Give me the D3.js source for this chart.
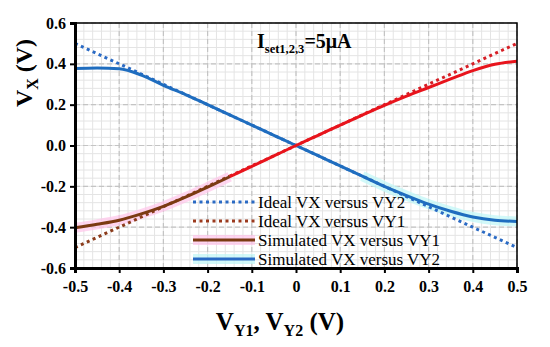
<!DOCTYPE html>
<html>
<head>
<meta charset="utf-8">
<script src="https://cdn.jsdelivr.net/npm/d3@7"></script>
<style>
body { margin: 0; background: #fff; }
svg text { font-family: "Liberation Serif", "Times New Roman", "DejaVu Serif", serif; }
</style>
</head>
<body>
<svg id="chart" width="550" height="347"></svg>
<script>

// sweep voltage VY1 / VY2 (V)
var vY = [-0.5, -0.45, -0.4, -0.35, -0.3, -0.25, -0.2, -0.15, -0.1, -0.05, 0,
	0.05, 0.1, 0.15, 0.2, 0.25, 0.3, 0.35, 0.4, 0.45, 0.5];

// ideal responses
var idealVY2 = [0.5, 0.45, 0.4, 0.35, 0.3, 0.25, 0.2, 0.15, 0.1, 0.05, 0,
	-0.05, -0.1, -0.15, -0.2, -0.25, -0.3, -0.35, -0.4, -0.45, -0.5];
var idealVY1 = [-0.5, -0.45, -0.4, -0.35, -0.3, -0.25, -0.2, -0.15, -0.1, -0.05, 0,
	0.05, 0.1, 0.15, 0.2, 0.25, 0.3, 0.35, 0.4, 0.45, 0.5];

// simulated responses
var simVY1 = [-0.403, -0.386, -0.366, -0.335, -0.298, -0.253, -0.204, -0.153, -0.102, -0.051, 0,
	0.05, 0.1, 0.149, 0.197, 0.242, 0.284, 0.326, 0.367, 0.398, 0.413];
var simVY2 = [0.377, 0.38, 0.376, 0.345, 0.295, 0.249, 0.2, 0.15, 0.1, 0.05, 0,
	-0.05, -0.1, -0.15, -0.2, -0.245, -0.287, -0.322, -0.35, -0.366, -0.372];

// ticks
var xTicks = [-0.5, -0.4, -0.3, -0.2, -0.1, 0, 0.1, 0.2, 0.3, 0.4, 0.5];
var yTicks = [-0.6, -0.4, -0.2, 0.0, 0.2, 0.4, 0.6];

// legend entries
var legendLabels = ["Ideal VX versus VY2", "Ideal VX versus VY1", "Simulated VX versus VY1", "Simulated VX versus VY2"];
var legendColors = ["#2a6ac4", "#9c3a1e", "#7b3a12", "#2a6ac4"];
var legendDotted = [true, true, false, false];
var legendGlow = [null, null, "#ffc4ea", "#bff6f6"];


var svg = d3.select("#chart");
var font = "'Liberation Serif', 'Times New Roman', 'DejaVu Serif', serif";
// plot area (note: "top" is reserved on window, hence the prefix)
var pLeft = 75, pRight = 517, pTop = 23, pBottom = 268;

var x = d3.scaleLinear().domain([-0.5, 0.5]).range([pLeft, pRight]);
var y = d3.scaleLinear().domain([-0.6, 0.6]).range([pBottom, pTop]);

// plain hyphen instead of d3's unicode minus
function fmt(d) { return d3.format(".1f")(d).replace("\u2212", "-"); };

// minor grid
var g = svg.append("g");
g.selectAll(".vminor").data(d3.range(-0.5, 0.5001, 0.02)).enter().append("line")
	.attr("x1", function (d) { return x(d); }).attr("x2", function (d) { return x(d); })
	.attr("y1", pTop).attr("y2", pBottom)
	.attr("stroke", "#e4e4e4").attr("stroke-width", 1);
g.selectAll(".hminor").data(d3.range(-0.6, 0.6001, 0.04)).enter().append("line")
	.attr("y1", function (d) { return y(d); }).attr("y2", function (d) { return y(d); })
	.attr("x1", pLeft).attr("x2", pRight)
	.attr("stroke", "#e4e4e4").attr("stroke-width", 1);

// major grid (dashed)
g.selectAll(".vmajor").data(xTicks).enter().append("line")
	.attr("x1", function (d) { return x(d); }).attr("x2", function (d) { return x(d); })
	.attr("y1", pTop).attr("y2", pBottom)
	.attr("stroke", "#c4c4c4").attr("stroke-width", 1.2).attr("stroke-dasharray", "5,3");
g.selectAll(".hmajor").data(yTicks).enter().append("line")
	.attr("y1", function (d) { return y(d); }).attr("y2", function (d) { return y(d); })
	.attr("x1", pLeft).attr("x2", pRight)
	.attr("stroke", "#c4c4c4").attr("stroke-width", 1.2).attr("stroke-dasharray", "5,3");

// line generator over a slice of the sweep
function lineFor(values, from, to) {
	var pts = [];
	for (var i = 0; i < vY.length; i++) {
		if (vY[i] >= from - 1e-9 && vY[i] <= to + 1e-9) pts.push([vY[i], values[i]]);
	};
	return d3.line().curve(d3.curveMonotoneX)
		.x(function (d) { return x(d[0]); })
		.y(function (d) { return y(d[1]); })(pts);
};

var plot = svg.append("g");

// glow halos
plot.append("path").attr("d", lineFor(simVY1, -0.5, -0.15))
	.attr("fill", "none").attr("stroke", "#ffc4ea").attr("stroke-width", 10).attr("opacity", 0.7);
plot.append("path").attr("d", lineFor(simVY2, 0.15, 0.5))
	.attr("fill", "none").attr("stroke", "#bff6f6").attr("stroke-width", 10).attr("opacity", 0.7);

// ideal lines (dotted)
plot.append("path").attr("d", lineFor(idealVY2, -0.5, 0.5))
	.attr("fill", "none").attr("stroke", "#2a6ac4").attr("stroke-width", 3)
	.attr("stroke-dasharray", "3,3.5");
plot.append("path").attr("d", lineFor(idealVY1, -0.15, 0.5))
	.attr("fill", "none").attr("stroke", "#d61f26").attr("stroke-width", 3)
	.attr("stroke-dasharray", "3,3.5");
plot.append("path").attr("d", lineFor(idealVY1, -0.5, -0.15))
	.attr("fill", "none").attr("stroke", "#8b3c1c").attr("stroke-width", 3)
	.attr("stroke-dasharray", "3,3.5");

// simulated lines
plot.append("path").attr("d", lineFor(simVY2, -0.5, 0.5))
	.attr("fill", "none").attr("stroke", "#1f6dbf").attr("stroke-width", 3);
plot.append("path").attr("d", lineFor(simVY1, -0.15, 0.5))
	.attr("fill", "none").attr("stroke", "#e8141c").attr("stroke-width", 3);
plot.append("path").attr("d", lineFor(simVY1, -0.5, -0.15))
	.attr("fill", "none").attr("stroke", "#7b3a12").attr("stroke-width", 3);

// frame
svg.append("rect").attr("x", pLeft).attr("y", pTop)
	.attr("width", pRight - pLeft).attr("height", pBottom - pTop)
	.attr("fill", "none").attr("stroke", "#000").attr("stroke-width", 1.5);

// axes
var xAxis = svg.append("g").attr("transform", "translate(0," + pBottom + ")")
	.call(d3.axisBottom(x).tickValues(xTicks).tickSize(5).tickPadding(8)
		.tickFormat(function (d) { return d === 0 ? "0" : fmt(d); }));
var yAxis = svg.append("g").attr("transform", "translate(" + pLeft + ",0)")
	.call(d3.axisLeft(y).tickValues(yTicks).tickSize(5).tickPadding(4).tickFormat(fmt));
[xAxis, yAxis].forEach(function (a) {
	a.attr("font-family", font);
	a.select(".domain").attr("stroke", "#000").attr("stroke-width", 3);
	a.selectAll(".tick line").attr("stroke", "#000").attr("stroke-width", 2);
	a.selectAll(".tick text").attr("fill", "#000")
		.style("font-family", font)
		.style("font-size", "16px").style("font-weight", "bold");
});

// title inside the plot
var title = svg.append("text").attr("x", 257).attr("y", 48)
	.style("font-family", font)
	.style("font-size", "20px").style("font-weight", "bold");
title.append("tspan").text("I");
title.append("tspan").attr("dy", 5).style("font-size", "12.5px").text("set1,2,3");
title.append("tspan").attr("dy", -5).text("=5μA");

// y-axis title
var yTitle = svg.append("text")
	.attr("transform", "translate(32,73) rotate(-90)")
	.attr("text-anchor", "middle")
	.style("font-family", font)
	.style("font-size", "24px").style("font-weight", "bold");
yTitle.append("tspan").text("V");
yTitle.append("tspan").attr("dy", 6).style("font-size", "16px").text("X");
yTitle.append("tspan").attr("dy", -6).text(" (V)");

// x-axis title
var xTitle = svg.append("text").attr("x", 280).attr("y", 330)
	.attr("text-anchor", "middle")
	.style("font-family", font)
	.style("font-size", "25px").style("font-weight", "bold");
xTitle.append("tspan").text("V");
xTitle.append("tspan").attr("dy", 6).style("font-size", "16px").text("Y1");
xTitle.append("tspan").attr("dy", -6).text(", V");
xTitle.append("tspan").attr("dy", 6).style("font-size", "16px").text("Y2");
xTitle.append("tspan").attr("dy", -6).text(" (V)");

// legend
var legend = svg.append("g").attr("transform", "translate(193,202)");
legendLabels.forEach(function (label, i) {
	var row = legend.append("g").attr("transform", "translate(0," + (i * 19) + ")");
	if (legendGlow[i]) row.append("line")
		.attr("x1", 0).attr("x2", 62).attr("y1", 0).attr("y2", 0)
		.attr("stroke", legendGlow[i]).attr("stroke-width", 10).attr("opacity", 0.7);
	row.append("line")
		.attr("x1", 0).attr("x2", 62).attr("y1", 0).attr("y2", 0)
		.attr("stroke", legendColors[i]).attr("stroke-width", 3)
		.attr("stroke-dasharray", legendDotted[i] ? "3,3.5" : null);
	row.append("text").attr("x", 65).attr("y", 5.5)
		.style("font-family", font)
		.style("font-size", "17px").text(label);
});
</script>
</body>
</html>
